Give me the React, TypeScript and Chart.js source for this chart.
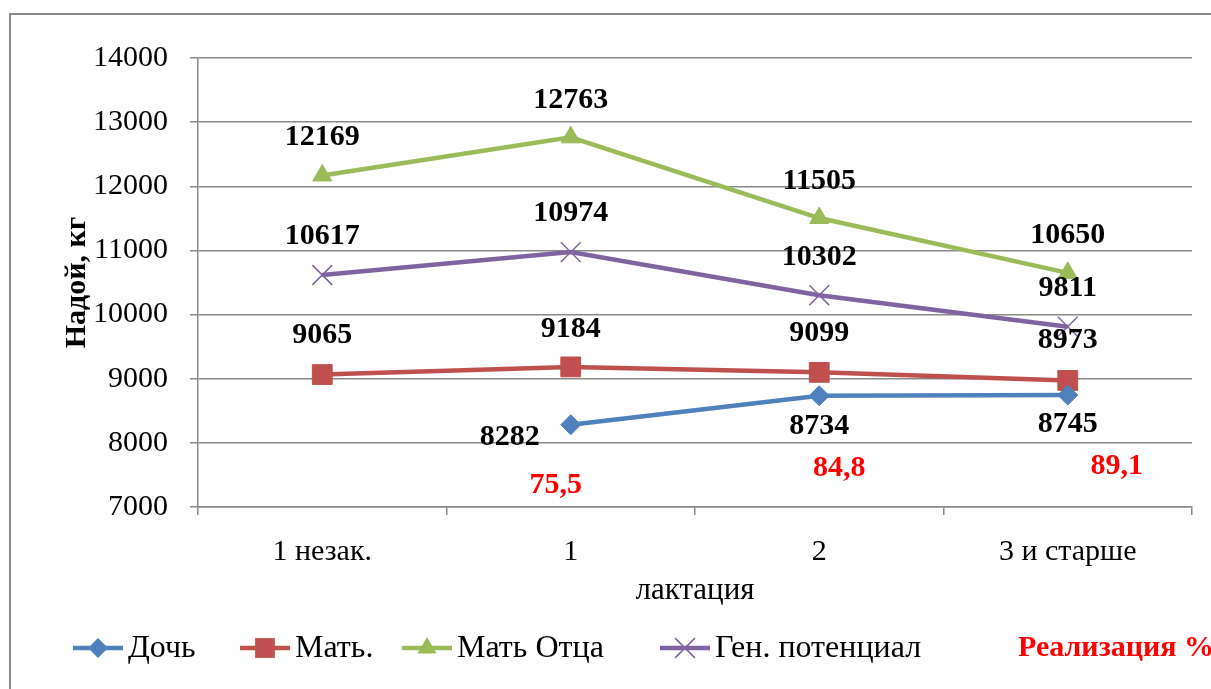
import React, { useEffect, useRef } from "react";
import { Chart, registerables } from "chart.js";

Chart.register(...registerables);

const FONT = "'Liberation Serif', 'Times New Roman', serif";

// ---- data ----
const categories = ["1 незак.", "1", "2", "3 и старше"];
const dochValues = [null, 8282, 8734, 8745];
const matValues = [9065, 9184, 9099, 8973];
const matOtcaValues = [12169, 12763, 11505, 10650];
const genPotValues = [10617, 10974, 10302, 9811];
const realizaciyaValues = [null, 75.5, 84.8, 89.1];
const yMin = 7000;
const yMax = 14000;
const yStep = 1000;

// ---- styles ----
const seriesStyles = [
  { label: "Дочь", color: "#4F81BD", point: "rectRot", radius: 10, pbw: 1, offsets: [[0, 0], [-61, 12], [0, 30], [0, 29]] },
  { label: "Мать.", color: "#C0504D", point: "rect", radius: 14, pbw: 1, offsets: [[0, -39], [0, -38], [0, -39], [0, -40]] },
  { label: "Мать Отца", color: "#9BBB59", point: "triangle", radius: 11, pbw: 1, offsets: [[0, -38], [0, -37], [0, -37], [0, -38]] },
  { label: "Ген. потенциал", color: "#8064A2", point: "crossRot", radius: 14, pbw: 1.5, offsets: [[0, -39], [0, -39], [0, -38], [0, -38]] },
];
const seriesValues = [dochValues, matValues, matOtcaValues, genPotValues];
const realizOffsets = [[0, 0], [-15, -22], [20, -39], [49, -41]];
const legendX = [73, 240, 402, 660];
const realizLegendX = 1018;
const legendY = 648;
const GRID = "#8a8a8a";

function drawMarker(ctx: CanvasRenderingContext2D, style: string, x: number, y: number, r: number, color: string, bw: number) {
  ctx.save();
  ctx.fillStyle = color;
  ctx.strokeStyle = color;
  ctx.lineWidth = bw;
  ctx.beginPath();
  if (style === "rectRot") {
    ctx.moveTo(x - r, y);
    ctx.lineTo(x, y - r);
    ctx.lineTo(x + r, y);
    ctx.lineTo(x, y + r);
    ctx.closePath();
    ctx.fill();
  } else if (style === "rect") {
    const s = Math.SQRT1_2 * r;
    ctx.rect(x - s, y - s, 2 * s, 2 * s);
    ctx.fill();
  } else if (style === "triangle") {
    const a = (2 * Math.PI) / 3;
    ctx.moveTo(x, y - r);
    ctx.lineTo(x + Math.sin(a) * r, y - Math.cos(a) * r);
    ctx.lineTo(x + Math.sin(2 * a) * r, y - Math.cos(2 * a) * r);
    ctx.closePath();
    ctx.fill();
  } else if (style === "crossRot") {
    const s = Math.SQRT1_2 * r;
    ctx.moveTo(x - s, y - s);
    ctx.lineTo(x + s, y + s);
    ctx.moveTo(x - s, y + s);
    ctx.lineTo(x + s, y - s);
    ctx.stroke();
  }
  ctx.restore();
}

const fmtComma = (v: number) => v.toFixed(1).replace(".", ",");

const framePlugin = {
  id: "frame",
  beforeDraw(chart: any) {
    const ctx = chart.ctx;
    ctx.save();
    ctx.fillStyle = "#ffffff";
    ctx.fillRect(0, 0, chart.width, chart.height);
    ctx.strokeStyle = "#8a8a8a";
    ctx.lineWidth = 2;
    ctx.beginPath();
    ctx.moveTo(10, chart.height);
    ctx.lineTo(10, 14);
    ctx.lineTo(chart.width, 14);
    ctx.stroke();
    ctx.restore();
  },
};

const labelsPlugin = {
  id: "valueLabels",
  afterDatasetsDraw(chart: any) {
    const ctx = chart.ctx;
    ctx.save();
    ctx.font = `bold 30px ${FONT}`;
    ctx.textAlign = "center";
    ctx.textBaseline = "middle";
    ctx.fillStyle = "#000";
    chart.data.datasets.forEach((ds: any, i: number) => {
      const meta = chart.getDatasetMeta(i);
      meta.data.forEach((pt: any, j: number) => {
        const v = ds.data[j];
        if (v == null) return;
        const [dx, dy] = ds.labelOffsets[j];
        ctx.fillText(String(v), pt.x + dx, pt.y + dy);
      });
    });
    ctx.fillStyle = "#ff0000";
    const xs = chart.scales.x;
    realizaciyaValues.forEach((r, j) => {
      if (r == null) return;
      const [dx, dy] = realizOffsets[j];
      ctx.fillText(fmtComma(r), xs.getPixelForValue(j) + dx, chart.chartArea.bottom + dy);
    });
    ctx.restore();
  },
};

const legendPlugin = {
  id: "customLegend",
  afterDraw(chart: any) {
    const ctx = chart.ctx;
    ctx.save();
    ctx.textBaseline = "middle";
    ctx.textAlign = "left";
    chart.data.datasets.forEach((ds: any, i: number) => {
      const x = legendX[i];
      ctx.strokeStyle = ds.borderColor;
      ctx.lineWidth = 4.5;
      ctx.beginPath();
      ctx.moveTo(x, legendY);
      ctx.lineTo(x + 50, legendY);
      ctx.stroke();
      drawMarker(ctx, ds.pointStyle, x + 25, legendY, ds.pointRadius, ds.borderColor, ds.pointBorderWidth);
      ctx.fillStyle = "#000";
      ctx.font = `32px ${FONT}`;
      ctx.fillText(ds.label, x + 55, legendY + 1);
    });
    ctx.fillStyle = "#ff0000";
    ctx.font = `bold 30px ${FONT}`;
    ctx.fillText("Реализация %", realizLegendX, legendY);
    ctx.restore();
  },
};

export default function App() {
  const canvasRef = useRef<HTMLCanvasElement | null>(null);

  useEffect(() => {
    if (!canvasRef.current) return;
    const datasets = seriesStyles.map((s, i) => ({
      label: s.label,
      data: seriesValues[i],
      borderColor: s.color,
      backgroundColor: s.color,
      borderWidth: 4.5,
      pointStyle: s.point,
      pointRadius: s.radius,
      pointHoverRadius: s.radius,
      pointBorderWidth: s.pbw,
      pointBackgroundColor: s.color,
      pointBorderColor: s.color,
      tension: 0,
      spanGaps: false,
      labelOffsets: s.offsets,
    }));
    const chart = new Chart(canvasRef.current, {
      type: "line",
      data: { labels: categories, datasets: datasets as any },
      options: {
        animation: false,
        responsive: false,
        events: [],
        layout: { padding: { left: 57, top: 58, right: 19, bottom: 76 } },
        plugins: { legend: { display: false }, tooltip: { enabled: false } },
        scales: {
          x: {
            offset: true,
            grid: { display: true, drawOnChartArea: false, drawTicks: true, tickLength: 8, color: GRID, lineWidth: 1.5, offset: true },
            border: { display: true, color: GRID, width: 1.5 },
            ticks: { font: { family: FONT, size: 30 }, color: "#000", padding: 19, maxRotation: 0, autoSkip: false },
            title: { display: true, text: "лактация", font: { family: FONT, size: 31 }, color: "#000", padding: { top: 4, bottom: 4 } },
            afterFit: (s: any) => { s.height = 106; },
          },
          y: {
            min: yMin,
            max: yMax,
            ticks: { stepSize: yStep, font: { family: FONT, size: 30 }, color: "#000", padding: 22, callback: (v: any) => String(v) },
            grid: { color: GRID, lineWidth: 1.5, tickLength: 8 },
            border: { display: true, color: GRID, width: 1.5 },
            title: { display: true, text: "Надой, кг", font: { family: FONT, size: 30, weight: "bold" }, color: "#000", padding: { top: 2, bottom: 4 } },
            afterFit: (s: any) => { s.width = 141; },
          },
        },
      } as any,
      plugins: [framePlugin, labelsPlugin, legendPlugin],
    });
    return () => chart.destroy();
  }, []);

  return (
    <div style={{ position: "fixed", left: 0, top: 0, width: 1211, height: 689, background: "#fff" }}>
      <canvas ref={canvasRef} width={1211} height={689} style={{ width: 1211, height: 689, display: "block" }} />
    </div>
  );
}
